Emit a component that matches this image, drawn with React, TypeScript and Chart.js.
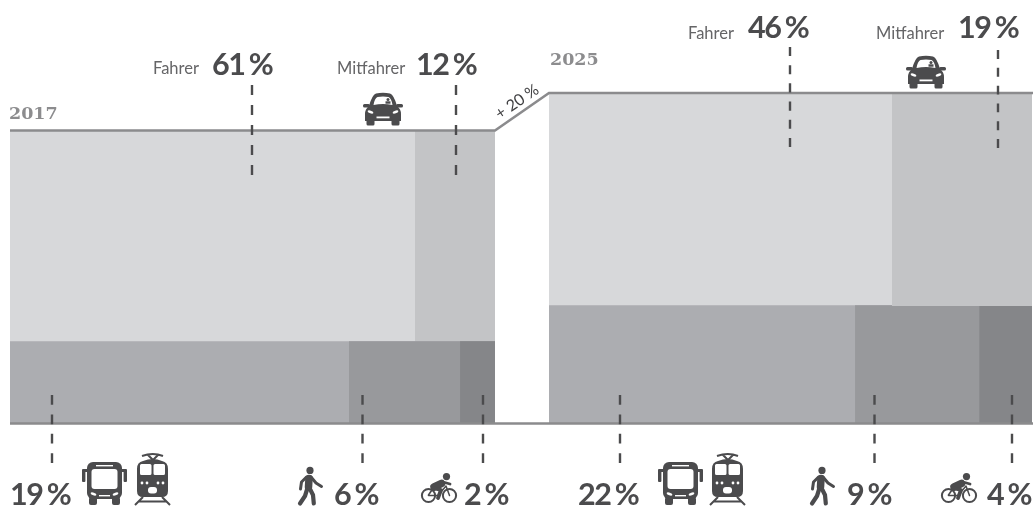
import React, { useEffect, useRef } from "react";
import { Chart, registerables } from "chart.js";

Chart.register(...registerables);

// ---- data ----
const years = ["2017", "2025"];
const growthLabel = "+ 20 %";
const carModes = ["Fahrer", "Mitfahrer"];
const shares2017Car = ["61 %", "12 %"];
const shares2025Car = ["46 %", "19 %"];
const shares2017Other = ["19 %", "6 %", "2 %"];
const shares2025Other = ["22 %", "9 %", "4 %"];
// widths of the segments in percent of a block's width
const widths2017Car = [83.5, 16.5];
const widths2017Other = [69.9, 22.9, 7.2];
const widths2025Car = [70.7, 28.9];
const widths2025Other = [63.1, 25.6, 10.9];
// heights: block total and height of the lower band (2017 total = 100)
const total2017 = 100;
const total2025 = 112.8;
const lower2017 = 28.1;
const lower2025Left = 40.4;
const lower2025Right = 40.1;

const carColors = ["#d7d8da", "#c3c4c6"];
const otherColors = ["#acadb1", "#98999c", "#858689"];

// ---- layout ----
const W = 1035;
const H = 507;
const PX_X = 4.85;
const PX_Y = 2.93;
const X0 = 10;
const Y0 = 423.5;
const BLOCK2 = (549 - X0) / PX_X;
const toX = (px: number) => (px - X0) / PX_X;
const toY = (py: number) => (Y0 - py) / PX_Y;
const INK = "#4b4b4d";
const LINE = "#8b8b8d";

// each segment runs on under its right-hand neighbour, so that no seam shows
function rects(start: number, widths: number[], yTop: number, yBase: number, colors: string[], order: number) {
  const total = widths.reduce((a, b) => a + b, 0);
  let x = start;
  return widths.map((w, i) => {
    const ds = {
      data: [{ x, y: yTop }, { x: start + total, y: yTop }],
      backgroundColor: colors[i],
      borderWidth: 0,
      borderColor: "transparent",
      fill: { value: yBase },
      pointRadius: 0,
      showLine: true,
      order: order - i,
    };
    x += w;
    return ds;
  });
}

function dash(px: number, y0: number, y1: number, n: number) {
  const d = Math.abs(y1 - y0) / (2 * n - 1);
  return {
    data: [{ x: toX(px), y: toY(y0) }, { x: toX(px), y: toY(y1) }],
    borderColor: INK,
    borderWidth: 2.4,
    borderDash: [d, d],
    pointRadius: 0,
    showLine: true,
    order: 0,
  };
}

// ---- icons ----
function bus(c: CanvasRenderingContext2D, x: number, y: number) {
  c.save();
  c.translate(x, y);
  c.fillStyle = INK;
  c.beginPath();
  c.roundRect(5, 0, 35, 37, 6);
  c.fill();
  c.beginPath();
  c.roundRect(0, 7, 6, 3, 1);
  c.roundRect(0, 7, 3.4, 13, 1);
  c.roundRect(39, 7, 6, 3, 1);
  c.roundRect(41.6, 7, 3.4, 13, 1);
  c.roundRect(7, 35, 8, 8, 2);
  c.roundRect(30, 35, 8, 8, 2);
  c.fill();
  c.fillStyle = "#fff";
  c.beginPath();
  c.roundRect(9.5, 7, 26, 20, 3);
  c.fill();
  c.fillRect(14, 3, 17, 1.4);
  c.beginPath();
  c.ellipse(11.5, 32, 3, 1.4, 0.3, 0, 7);
  c.ellipse(33.5, 32, 3, 1.4, -0.3, 0, 7);
  c.fill();
  c.fillRect(17, 33, 11, 1.4);
  c.restore();
}

function train(c: CanvasRenderingContext2D, x: number, y: number) {
  c.save();
  c.translate(x, y);
  c.fillStyle = INK;
  c.strokeStyle = INK;
  c.lineWidth = 2;
  c.beginPath();
  c.moveTo(9, 3);
  c.quadraticCurveTo(20, -1, 30, 3);
  c.moveTo(15, 2);
  c.lineTo(20, 7);
  c.lineTo(25, 2);
  c.stroke();
  c.beginPath();
  c.moveTo(10, 8);
  c.quadraticCurveTo(20, 4, 29, 8);
  c.quadraticCurveTo(35, 9, 35, 16);
  c.lineTo(35, 38);
  c.quadraticCurveTo(35, 44, 29, 44);
  c.lineTo(10, 44);
  c.quadraticCurveTo(4, 44, 4, 38);
  c.lineTo(4, 16);
  c.quadraticCurveTo(4, 9, 10, 8);
  c.closePath();
  c.fill();
  c.lineWidth = 2;
  c.beginPath();
  c.moveTo(10, 44);
  c.lineTo(2, 52);
  c.moveTo(29, 44);
  c.lineTo(37, 52);
  c.moveTo(5, 48.5);
  c.lineTo(34, 48.5);
  c.stroke();
  c.fillStyle = "#fff";
  c.beginPath();
  c.roundRect(7, 11, 11.5, 11, 1.5);
  c.roundRect(20.5, 11, 11.5, 11, 1.5);
  c.fill();
  c.beginPath();
  for (const dx of [9, 14, 25, 30]) {
    c.moveTo(dx + 1.4, 30);
    c.arc(dx, 30, 1.4, 0, 7);
  }
  c.fill();
  c.beginPath();
  c.roundRect(15, 34, 9, 6.5, 3);
  c.fill();
  c.restore();
}

function limb(c: CanvasRenderingContext2D, w: number, pts: number[]) {
  c.lineWidth = w;
  c.beginPath();
  c.moveTo(pts[0], pts[1]);
  for (let i = 2; i < pts.length; i += 2) c.lineTo(pts[i], pts[i + 1]);
  c.stroke();
}

function walker(c: CanvasRenderingContext2D, x: number, y: number) {
  c.save();
  c.translate(x, y);
  c.fillStyle = INK;
  c.strokeStyle = INK;
  c.lineCap = "round";
  c.lineJoin = "round";
  c.beginPath();
  c.arc(12, 3.4, 3.6, 0, 7);
  c.fill();
  limb(c, 7.5, [11, 11.5, 10.5, 20]);
  limb(c, 3, [8.5, 10, 3.5, 15, 2.5, 22]);
  limb(c, 3, [13, 10, 18, 16, 23.5, 19.5]);
  limb(c, 4.2, [9.5, 21, 7, 29, 2, 36.5]);
  limb(c, 4.2, [11.5, 21, 15, 28, 15.8, 36.5]);
  c.restore();
}

function cyclist(c: CanvasRenderingContext2D, x: number, y: number) {
  c.save();
  c.translate(x, y);
  c.fillStyle = INK;
  c.strokeStyle = INK;
  c.lineCap = "round";
  c.lineJoin = "round";
  c.lineWidth = 2;
  c.beginPath();
  c.arc(7.5, 22.5, 6.6, 0, 7);
  c.stroke();
  c.beginPath();
  c.arc(28.5, 22.5, 6.6, 0, 7);
  c.stroke();
  limb(c, 1.5, [7.5, 22.5, 17, 22.5, 25, 13, 28.5, 22.5]);
  limb(c, 1.6, [7.5, 22, 13, 14]);
  c.beginPath();
  c.arc(25.5, 3.6, 3.6, 0, 7);
  c.fill();
  limb(c, 7.5, [20.5, 10.5, 13, 14]);
  limb(c, 2.8, [22, 9, 29, 11]);
  limb(c, 3.8, [12, 15, 20, 17, 17, 25]);
  c.restore();
}

function car(c: CanvasRenderingContext2D, x: number, y: number) {
  c.save();
  c.translate(x, y);
  c.fillStyle = INK;
  c.beginPath();
  c.moveTo(6, 13);
  c.quadraticCurveTo(9, 2, 13, 0.5);
  c.quadraticCurveTo(20, -1, 27, 0.5);
  c.quadraticCurveTo(31, 2, 34, 13);
  c.quadraticCurveTo(38, 16, 38, 21);
  c.lineTo(38, 28);
  c.lineTo(2, 28);
  c.lineTo(2, 21);
  c.quadraticCurveTo(2, 16, 6, 13);
  c.closePath();
  c.fill();
  c.beginPath();
  c.roundRect(0, 11, 7, 3.4, 1.5);
  c.roundRect(33, 11, 7, 3.4, 1.5);
  c.roundRect(3.5, 26, 8, 6.5, 1.5);
  c.roundRect(28.5, 26, 8, 6.5, 1.5);
  c.fill();
  c.fillStyle = "#fff";
  c.beginPath();
  c.moveTo(10.5, 12);
  c.quadraticCurveTo(11.5, 5.5, 14.5, 4);
  c.quadraticCurveTo(20, 3, 25.5, 4);
  c.quadraticCurveTo(28.5, 5.5, 29.5, 12);
  c.quadraticCurveTo(20, 10, 10.5, 12);
  c.closePath();
  c.fill();
  c.beginPath();
  c.ellipse(7.5, 19, 3, 1.4, 0.3, 0, 7);
  c.ellipse(32.5, 19, 3, 1.4, -0.3, 0, 7);
  c.fill();
  c.fillRect(13.5, 23.5, 13, 1.8);
  c.fillStyle = INK;
  c.beginPath();
  c.arc(25, 6.5, 1.5, 0, 7);
  c.fill();
  c.fillRect(22.5, 8.3, 5, 2.4);
  c.restore();
}

const decorations = {
  id: "decorations",
  afterDatasetsDraw(chart: any) {
    const c: CanvasRenderingContext2D = chart.ctx;
    c.save();
    c.textBaseline = "alphabetic";
    c.textAlign = "left";

    const big = (t: string, x: number, y: number) => {
      c.font = "700 30.5px Lato";
      c.fillStyle = INK;
      (c as any).letterSpacing = "-1.5px";
      (c as any).wordSpacing = "-1.5px";
      c.fillText(t, x, y);
      (c as any).letterSpacing = "0px";
      (c as any).wordSpacing = "0px";
    };
    const small = (t: string, x: number, y: number) => {
      c.font = "400 16.5px Lato";
      c.fillStyle = "#656567";
      c.fillText(t, x, y);
    };
    const year = (t: string, x: number, y: number) => {
      c.font = "700 17.5px 'DejaVu Serif'";
      c.fillStyle = "#8c8c8e";
      c.fillText(t, x, y);
    };

    year(years[0], 9, 119);
    year(years[1], 550, 65);

    small(carModes[0], 153, 74);
    big(shares2017Car[0], 212, 75);
    small(carModes[1], 337, 74);
    big(shares2017Car[1], 416, 75);

    small(carModes[0], 688, 39);
    big(shares2025Car[0], 748, 38);
    small(carModes[1], 876, 39);
    big(shares2025Car[1], 958, 38);

    big(shares2017Other[0], 10, 505);
    big(shares2017Other[1], 334, 505);
    big(shares2017Other[2], 464, 505);
    big(shares2025Other[0], 578, 505);
    big(shares2025Other[1], 847, 505);
    big(shares2025Other[2], 987, 505);

    c.save();
    c.translate(520, 106);
    c.rotate(-0.6);
    c.font = "400 16px Lato";
    c.fillStyle = "#3f3f41";
    c.textAlign = "center";
    c.fillText(growthLabel, 0, 0);
    c.restore();

    car(c, 363, 93);
    car(c, 906, 56);
    bus(c, 82, 462);
    train(c, 133, 453);
    bus(c, 658, 462);
    train(c, 708, 453);
    walker(c, 298, 467);
    walker(c, 810, 467);
    cyclist(c, 421, 473);
    cyclist(c, 941, 473);
    c.restore();
  },
};

export default function App() {
  const ref = useRef<HTMLCanvasElement>(null);
  useEffect(() => {
    if (!ref.current) return;
    const x2017 = 0;
    const datasets: any[] = [
      ...rects(x2017, widths2017Car, total2017, 0, carColors, 30),
      ...rects(x2017, widths2017Other, lower2017, 0, otherColors, 20),
      ...rects(BLOCK2, [widths2025Car[0] + widths2025Car[1]], total2025, 0, [carColors[0]], 30),
      ...rects(BLOCK2, widths2025Other, lower2025Left, 0, otherColors, 20),
      ...rects(BLOCK2 + widths2025Car[0], [widths2025Car[1]], total2025, lower2025Right, [carColors[1]], 10),
      {
        data: [
          { x: x2017, y: total2017 },
          { x: 100, y: total2017 },
          { x: BLOCK2, y: total2025 },
          { x: toX(1033), y: total2025 },
        ],
        borderColor: LINE,
        borderWidth: 2.6,
        pointRadius: 0,
        showLine: true,
        order: 1,
      },
      {
        data: [{ x: x2017, y: 0 }, { x: toX(1033), y: 0 }],
        borderColor: LINE,
        borderWidth: 2.6,
        pointRadius: 0,
        showLine: true,
        order: 1,
      },
      dash(252, 85, 175, 5),
      dash(456, 85, 175, 5),
      dash(790, 47, 147, 6),
      dash(998, 50, 148, 6),
      dash(52, 395, 463, 4),
      dash(362.5, 395, 463, 4),
      dash(483, 395, 463, 4),
      dash(620, 395, 463, 4),
      dash(874.5, 395, 463, 4),
      dash(1012, 395, 463, 4),
    ];
    const chart = new Chart(ref.current, {
      type: "scatter",
      data: { datasets },
      plugins: [decorations],
      options: {
        animation: false,
        responsive: false,
        maintainAspectRatio: false,
        layout: { padding: 0 },
        plugins: { legend: { display: false }, tooltip: { enabled: false } },
        scales: {
          x: { type: "linear", display: false, min: toX(0), max: toX(W) },
          y: { type: "linear", display: false, min: toY(H), max: toY(0) },
        },
      },
    } as any);
    return () => chart.destroy();
  }, []);
  return (
    <div style={{ position: "fixed", left: 0, top: 0, width: W, height: H, background: "#fff" }}>
      <canvas ref={ref} width={W} height={H} style={{ display: "block" }} />
    </div>
  );
}
